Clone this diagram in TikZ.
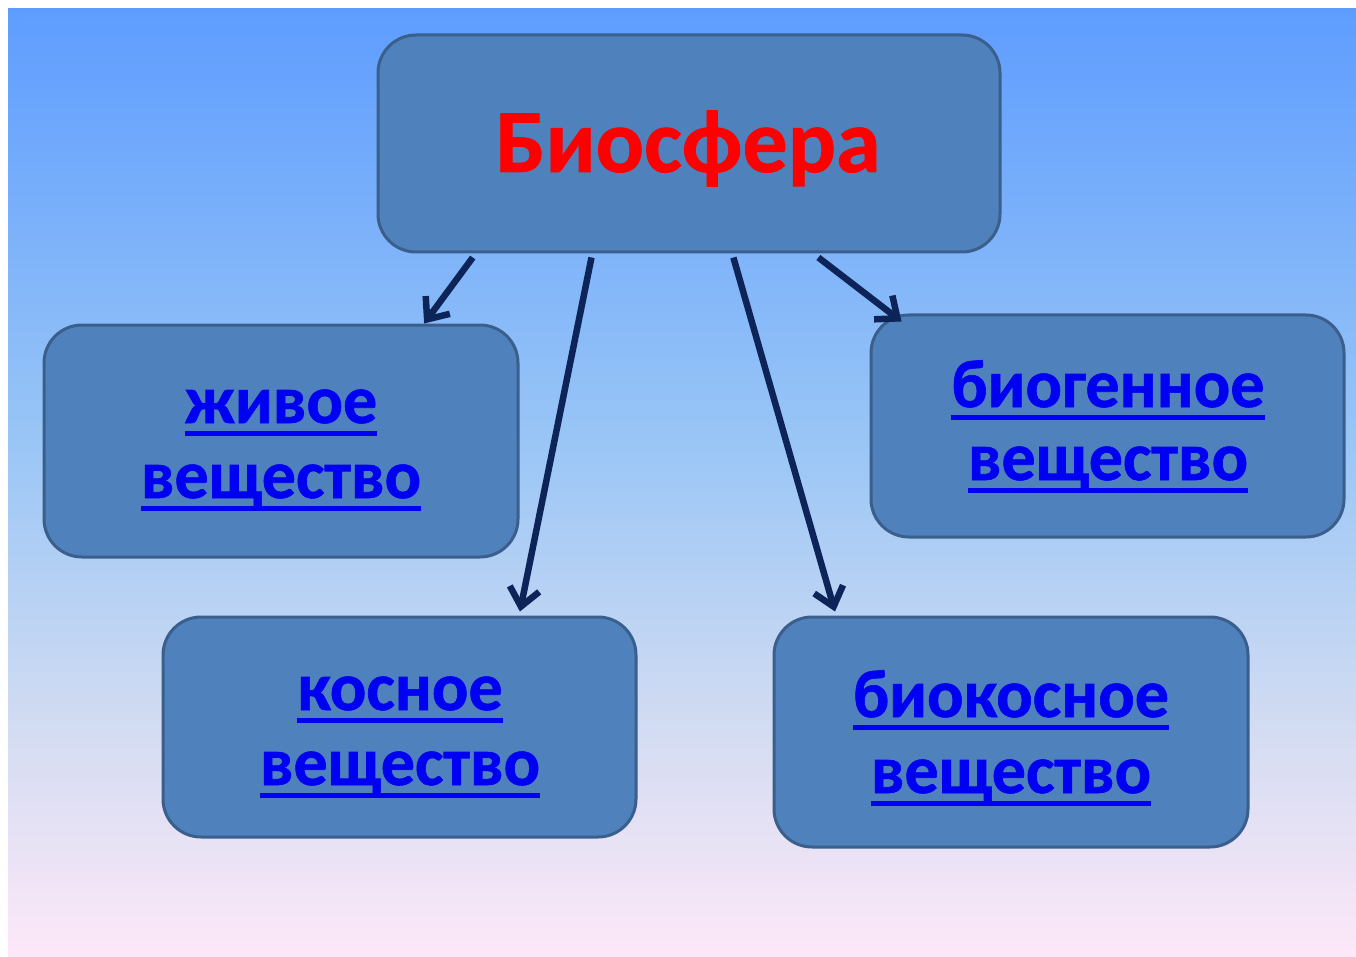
\documentclass[tikz,border=0pt]{standalone}
\usepackage{fontspec}
\setmainfont[BoldFeatures={FakeBold=0.9}]{Carlito}
\usetikzlibrary{arrows.meta,calc}
\definecolor{boxfill}{HTML}{4F81BD}
\definecolor{boxline}{HTML}{3A5F8C}
\definecolor{arr}{HTML}{0D2458}
\definecolor{lnk}{HTML}{0000F2}
\definecolor{ttl}{HTML}{FF0000}
\definecolor{bgtop}{HTML}{5E9DFF}
\definecolor{bgmid}{HTML}{9AC6F6}
\definecolor{bglav}{HTML}{D3DCF2}
\definecolor{bgbot}{HTML}{FDE8F8}
\pgfdeclareverticalshading{bgshade}{100bp}{color(0bp)=(bgbot); color(25bp)=(bgbot); color(37bp)=(bglav); color(52bp)=(bgmid); color(75bp)=(bgtop); color(100bp)=(bgtop)}
\newcommand{\myul}[1]{\setbox0\hbox{#1}\rlap{\rule[-13pt]{\wd0}{5pt}}\box0}
\tikzset{
  box/.style={draw=boxline, line width=3pt, fill=boxfill, rounded corners=38pt, inner sep=0pt},
  sub/.style={anchor=base, text=lnk, font=\fontsize{68pt}{75pt}\selectfont\bfseries, inner sep=0pt},
  conn/.style={draw=arr, line width=6.5pt, -{Straight Barb[length=18pt,width=30pt,line width=6.5pt]}}
}
\begin{document}
\begin{tikzpicture}[x=1pt,y=-1pt]
\useasboundingbox (0,0) rectangle (1356,957);
\shade[shading=bgshade] (8,9) rectangle (1356,957);
% boxes
\node[box, minimum width=622pt, minimum height=217pt] (top) at (689,143.5) {};
\node[box, minimum width=474pt, minimum height=232pt] (liv) at (281,441) {};
\node[box, minimum width=473pt, minimum height=222pt] (biog) at (1107.5,426) {};
\node[box, minimum width=473pt, minimum height=220pt] (kos) at (399.5,727) {};
\node[box, minimum width=474pt, minimum height=230pt] (biok) at (1011,732) {};
% texts
\node[anchor=base, text=ttl, font=\fontsize{90pt}{90pt}\selectfont\bfseries, inner sep=0pt] (ttltext) at (688,172) {Биосфера};
\node[sub] (liv1) at (281,423) {\myul{живое}};
\node[sub] (liv2) at (281,498) {\myul{вещество}};
\node[sub] (biog1) at (1108,407) {\myul{биогенное}};
\node[sub] (biog2) at (1108,480) {\myul{вещество}};
\node[sub] (kos1) at (400,710) {\myul{косное}};
\node[sub] (kos2) at (400,785) {\myul{вещество}};
\node[sub] (biok1) at (1011,717) {\myul{биокосное}};
\node[sub] (biok2) at (1011,793) {\myul{вещество}};
% connectors
\coordinate (e4) at ($(biog.north west)+(32,8)$);
\draw[conn] ($(top.south west)!0.154!(top.south east)+(0,4)$) -- ($(liv.north west)!0.80!(liv.north east)$);
\draw[conn] ($(top.south west)!0.344!(top.south east)+(0,4)$) -- ($(kos.north west)!0.753!(kos.north east)+(0,-4)$);
\draw[conn] ($(top.south west)!0.571!(top.south east)+(0,4)$) -- ($(biok.north west)!0.131!(biok.north east)+(0,-4)$);
\draw[conn] ($(top.south west)!0.707!(top.south east)+(0,4)$) -- (e4);
\end{tikzpicture}
\end{document}
